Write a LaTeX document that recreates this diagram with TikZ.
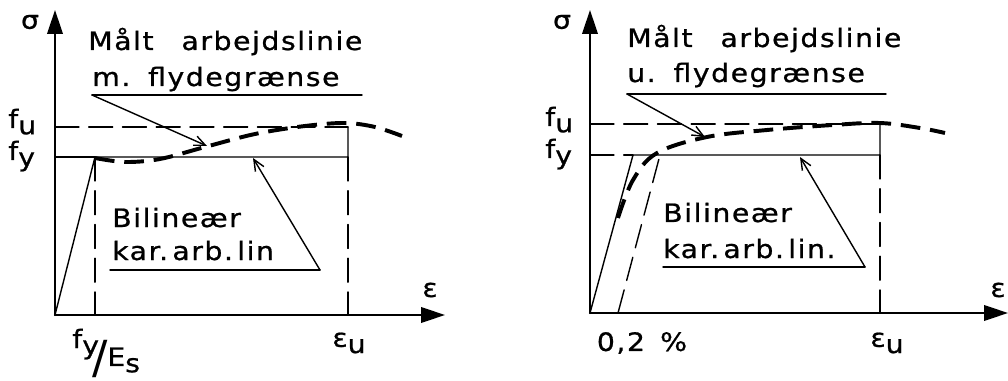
\documentclass[tikz,border=0pt]{standalone}
\usepackage{graphicx}
\usepackage{fontspec}
\setmainfont{DejaVu Sans}[LetterSpace=6,FakeStretch=1.12,FakeBold=0.8]
\newfontfamily\plainfont{DejaVu Sans}
\usetikzlibrary{arrows.meta}
\newcommand{\idx}[2]{#1\raisebox{-.45ex}{#2}}

\begin{document}
\begin{tikzpicture}[x=0.025cm,y=-0.025cm,line cap=round,line join=round,
  axis/.style={line width=1.5pt,-{Triangle[length=17pt,width=11pt]}},
  thin/.style={line width=1pt},
  guide/.style={line width=1pt,dash pattern=on 17pt off 7pt},
  measured/.style={line width=2.8pt,dash pattern=on 14pt off 7pt,line cap=butt},
  leader/.style={line width=1pt,-{Straight Barb[length=8pt,width=7pt]}},
  lbl/.style={font=\fontsize{18}{21}\selectfont,inner sep=0pt}]
\useasboundingbox (0,0) rectangle (1008,381);
% left: with yield plateau
\coordinate (O) at (55,315);
\coordinate (Y) at (55,10);
\coordinate (X) at (445,315);
\coordinate (fu) at (55,127);
\coordinate (fy) at (55,157);
\coordinate (A) at (95,157);
\coordinate (A0) at (95,315);
\coordinate (U) at (348,157);
\coordinate (Ut) at (348,127);
\coordinate (U0) at (348,315);
\coordinate (M1) at (92,95);
\coordinate (M2) at (362,95);
\coordinate (Mt) at (207,146);
\coordinate (B1) at (110,270);
\coordinate (B2) at (320,270);
\coordinate (Bt) at (253,158);
\draw[axis] (O) -- (Y);
\draw[axis] (O) -- (X);
\draw[guide] (fu) -- (Ut);
\draw[thin] (fy) -- (A);
\draw[thin] (O) -- (A) -- (U) -- (Ut);
\draw[guide] (A) -- (A0);
\draw[guide] (U) -- (U0);
\draw[measured] plot[smooth,tension=0.55] coordinates {(95,158) (125,162) (160,159) (205,147) (255,134) (305,126) (345,123) (375,127) (402,136)};
\draw[thin] (M1) -- (M2);
\draw[leader] (M1) -- (Mt);
\draw[thin] (B1) -- (B2);
\draw[leader] (B2) -- (Bt);
\node[lbl] (sig) at (30,22) {σ};
\node[lbl] (eps) at (430,290) {ε};
\node[lbl,anchor=base west] (fuL) at (8,128) {\idx{f}{u}};
\node[lbl,anchor=base west] (fyL) at (8,160) {\idx{f}{y}};
\node[lbl,anchor=base west] (m1) at (88,50) {Målt\hspace{1.1em}arbejdslinie};
\node[lbl,anchor=base west] (m2) at (92,86) {m.\hspace{.7em}flydegrænse};
\node[lbl,anchor=base west] (b1) at (112,227) {Bilineær};
\node[lbl,anchor=base west] (b2) at (112,260) {kar.\,arb.\,lin};
\node[lbl] (epsu) at (349,343) {\idx{ε}{u}};
\node[lbl,anchor=base west] (fyEs) at (72,348) {\idx{f}{y}\kern-5pt\raisebox{-1.86ex}{\plainfont\scalebox{1.8}{/}}\kern0pt\raisebox{-1.3ex}{\idx{E}{s}}};
% right: without yield plateau
\coordinate (rO) at (590,313);
\coordinate (rY) at (590,10);
\coordinate (rX) at (1008,313);
\coordinate (rfu) at (590,124);
\coordinate (rfy) at (590,155);
\coordinate (rA) at (633,155);
\coordinate (rP) at (660,155);
\coordinate (rP0) at (618,313);
\coordinate (rU) at (880,155);
\coordinate (rUt) at (880,124);
\coordinate (rU0) at (880,313);
\coordinate (rM1) at (627,94);
\coordinate (rM2) at (886,94);
\coordinate (rMt) at (705,137);
\coordinate (rB1) at (663,267);
\coordinate (rB2) at (865,267);
\coordinate (rBt) at (800,157);
\draw[axis] (rO) -- (rY);
\draw[axis] (rO) -- (rX);
\draw[guide] (rfu) -- (rUt);
\draw[guide] (rfy) -- (rA);
\draw[thin] (rO) -- (rA) -- (rU) -- (rUt);
\draw[guide] (rP0) -- (rP);
\draw[guide] (rU) -- (rU0);
\draw[measured] plot[smooth,tension=0.6] coordinates {(618,218) (633,180) (657,153) (707,137) (767,130) (833,125) (880,123) (920,128) (945,133)};
\draw[thin] (rM1) -- (rM2);
\draw[leader] (rM1) -- (rMt);
\draw[thin] (rB1) -- (rB2);
\draw[leader] (rB2) -- (rBt);
\node[lbl] (rsig) at (562,22) {σ};
\node[lbl] (reps) at (998,290) {ε};
\node[lbl,anchor=base west] (rfuL) at (545,126) {\idx{f}{u}};
\node[lbl,anchor=base west] (rfyL) at (545,158) {\idx{f}{y}};
\node[lbl,anchor=base west] (rm1) at (627,47) {Målt\hspace{1.1em}arbejdslinie};
\node[lbl,anchor=base west] (rm2) at (627,82) {u.\hspace{.7em}flydegrænse};
\node[lbl,anchor=base west] (rb1) at (663,222) {Bilineær};
\node[lbl,anchor=base west] (rb2) at (663,258) {kar.\,arb.\,lin.};
\node[lbl] (repsu) at (887,343) {\idx{ε}{u}};
\node[lbl] (r02) at (642,343) {0,2\hspace{.6em}\%};
\end{tikzpicture}
\end{document}
